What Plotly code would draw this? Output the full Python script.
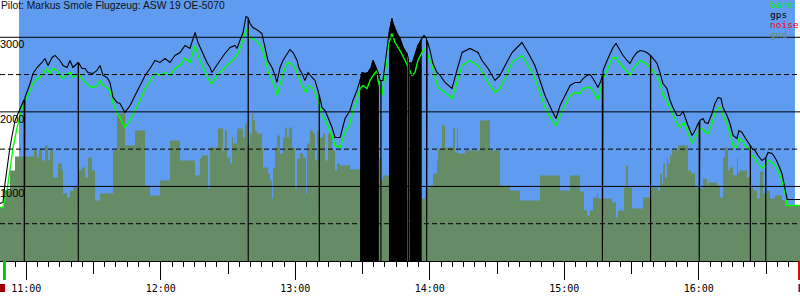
import pandas as pd
import plotly.graph_objects as go

# ---------------- data (times in minutes after midnight, altitudes in m) -------------
gps_min = [648.3, 649.6, 650.5, 651.4, 652.7, 654.1, 655.0, 656.3, 658.1, 659.4, 661.7, 663.0, 664.8, 667.0,
           668.3, 669.7, 671.5, 672.8, 675.0, 676.4, 678.2, 679.5, 680.8, 683.1, 684.9, 686.2, 687.5, 689.8,
           691.5, 692.9, 694.2, 696.0, 697.3, 698.7, 700.5, 701.8, 704.0, 706.3, 708.5, 710.7, 713.0, 715.2,
           717.4, 719.6, 721.9, 724.1, 726.3, 728.6, 730.8, 733.0, 735.3, 736.6, 737.5, 738.8, 740.6, 742.0,
           742.8, 744.2, 746.4, 748.6, 750.9, 753.1, 754.0, 755.3, 756.7, 758.0, 758.9, 759.8, 761.1, 763.4,
           765.1, 766.5, 767.8, 769.6, 771.0, 771.8, 773.2, 774.5, 776.3, 777.6, 779.0, 780.8, 781.7, 783.0,
           784.3, 785.7, 787.5, 788.8, 790.1, 791.9, 793.3, 794.6, 796.4, 797.7, 800.0, 802.2, 804.4, 805.7,
           807.5, 808.9, 809.8, 811.1, 812.4, 813.8, 814.7, 816.0, 816.9, 817.8, 819.1, 820.5, 821.8, 823.1,
           823.6, 825.4, 826.7, 828.1, 829.8, 830.7, 832.1, 833.4, 834.7, 836.5, 837.4, 838.8, 840.1, 841.4,
           843.2, 844.6, 846.8, 849.9, 852.1, 854.4, 857.9, 861.5, 863.3, 866.0, 869.1, 871.3, 873.6, 876.7,
           881.1, 883.8, 886.9, 889.2, 891.4, 894.5, 896.3, 898.1, 900.3, 902.6, 904.8, 907.0, 908.4, 910.1,
           911.5, 912.8, 914.6, 915.0, 916.4, 917.3, 919.1, 920.4, 921.7, 923.1, 924.4, 926.2, 928.0, 929.3,
           930.7, 932.4, 933.8, 936.0, 937.4, 939.6, 941.4, 942.7, 944.0, 945.8, 947.2, 948.5, 950.3, 951.6,
           953.0, 955.2, 957.0, 958.3, 960.5, 961.9, 962.8, 964.1, 965.9, 967.2, 968.6, 969.9, 970.8, 972.6,
           973.9, 975.3, 977.0, 977.9, 979.3, 980.6, 982.0, 983.7, 985.1, 986.4, 988.2, 989.5, 990.9, 992.7,
           994.0, 995.3, 997.1, 998.5, 999.4, 1005.2]
gps_alt = [772, 785, 1040, 1254, 1522, 1750, 1885, 1978, 2112, 2193, 2380, 2514, 2595, 2662,
           2716, 2622, 2729, 2756, 2689, 2622, 2595, 2689, 2595, 2662, 2581, 2581, 2528, 2514,
           2555, 2622, 2488, 2461, 2394, 2193, 2126, 2112, 1992, 2085, 2220, 2354, 2488, 2581,
           2689, 2662, 2716, 2662, 2756, 2796, 2890, 2850, 3064, 2930, 2863, 2783, 2662, 2595,
           2528, 2595, 2689, 2783, 2863, 2890, 2850, 2957, 3064, 3279, 3265, 3185, 3131, 3091,
           3051, 2863, 2689, 2595, 2488, 2394, 2595, 2689, 2783, 2836, 2796, 2689, 2581, 2514,
           2421, 2528, 2461, 2421, 2287, 2059, 2018, 1925, 1791, 1656, 1656, 1911, 2018, 2153,
           2287, 2421, 2528, 2514, 2528, 2595, 2689, 2595, 2528, 2421, 2421, 2756, 3051, 3252,
           3185, 3051, 2984, 2863, 2783, 2662, 2648, 2756, 2890, 2984, 3024, 2957, 2823, 2648,
           2528, 2488, 2394, 2313, 2555, 2796, 2850, 2796, 2689, 2581, 2421, 2488, 2622, 2796,
           2930, 2796, 2622, 2421, 2220, 2018, 1911, 2085, 2220, 2354, 2394, 2394, 2447, 2488,
           2501, 2447, 2354, 2327, 2421, 2555, 2689, 2783, 2863, 2917, 2850, 2756, 2689, 2648,
           2729, 2796, 2823, 2809, 2783, 2716, 2648, 2528, 2380, 2313, 2153, 2059, 1951, 1951,
           2005, 1817, 1683, 1750, 1885, 1911, 1858, 1844, 1978, 2112, 2193, 2179, 2059, 1951,
           1844, 1683, 1643, 1750, 1724, 1656, 1589, 1509, 1482, 1415, 1348, 1375, 1455, 1442,
           1388, 1308, 1174, 986, 825, 825]

# single-fix GPS dropouts (altitude falls to 0): time and altitude just around it
dropout_min = [659.1, 683.2, 759.0, 790.7, 818.2, 830.5, 838.6, 917.0, 938.5, 960.2, 983.0, 989.9]
dropout_alt = [2166, 2662, 3252, 2220, 2421, 2716, 2984, 2488, 2756, 1871, 1549, 1388]

# periods of continuous GPS jitter to 0 (drawn as black blocks)
jam1_min = [808.9, 809.8, 811.1, 812.4, 813.8, 814.7, 816.0, 816.9, 817.3]
jam1_alt = [2421, 2528, 2514, 2528, 2595, 2689, 2595, 2528, 2470]
jam2_min = [821.8, 823.1, 823.6, 825.4, 826.7, 828.1, 829.8, 830.0]
jam2_alt = [3051, 3252, 3185, 3051, 2984, 2863, 2783, 2770]
jam3_min = [831.0, 832.1, 833.4, 834.7, 836.4]
jam3_alt = [2662, 2648, 2756, 2890, 2984]

baro_min = [648.3, 649.6, 651.4, 652.7, 654.1, 655.9, 657.2, 658.5, 660.3, 661.7, 663.0, 664.8, 666.1, 667.5,
            669.2, 670.6, 671.9, 673.7, 675.0, 676.4, 678.2, 679.5, 680.8, 683.1, 684.9, 686.2, 687.5, 689.8,
            691.5, 692.9, 694.2, 696.0, 697.3, 698.7, 700.5, 701.8, 704.0, 706.3, 708.5, 710.7, 713.0, 715.2,
            717.4, 719.6, 721.9, 724.1, 726.3, 728.6, 730.8, 733.0, 735.3, 736.6, 737.5, 738.8, 740.6, 742.0,
            742.8, 744.2, 746.4, 748.6, 750.9, 753.1, 754.4, 756.2, 757.6, 758.5, 759.8, 761.1, 763.4, 765.1,
            766.5, 767.8, 769.6, 771.0, 771.8, 773.2, 774.5, 776.3, 777.6, 779.0, 780.8, 782.1, 783.4, 784.8,
            785.7, 787.5, 788.8, 790.1, 791.9, 793.3, 794.6, 796.4, 797.7, 800.0, 802.2, 804.4, 805.7, 807.5,
            808.9, 810.2, 812.0, 813.3, 814.7, 816.5, 816.9, 818.7, 819.1, 820.9, 821.4, 823.1, 824.5, 826.7,
            829.0, 830.3, 832.1, 833.4, 834.7, 836.5, 837.9, 839.2, 841.0, 842.3, 843.7, 846.8, 849.9, 852.1,
            854.4, 857.9, 861.5, 863.3, 866.0, 869.1, 871.3, 873.6, 876.7, 881.1, 883.8, 886.9, 889.2, 891.4,
            894.5, 896.3, 898.1, 900.3, 902.6, 904.8, 907.0, 908.4, 910.1, 911.5, 912.8, 914.6, 915.0, 916.4,
            917.3, 919.1, 920.4, 921.7, 923.1, 924.4, 926.2, 928.0, 929.3, 930.7, 932.4, 933.8, 936.0, 937.4,
            939.6, 941.4, 942.7, 944.0, 945.8, 947.2, 948.5, 950.3, 951.6, 953.4, 957.0, 958.3, 960.5, 961.9,
            962.8, 964.1, 965.9, 967.2, 968.6, 969.9, 970.8, 972.6, 973.9, 975.3, 977.0, 977.9, 979.3, 980.6,
            982.0, 983.7, 985.1, 986.4, 988.2, 989.5, 990.9, 992.7, 994.0, 995.3, 997.1, 998.5, 999.4, 1005.2]
baro_alt = [718, 718, 946, 1254, 1522, 1791, 1951, 2085, 2193, 2287, 2380, 2447, 2461, 2514,
            2581, 2514, 2581, 2555, 2488, 2447, 2514, 2528, 2461, 2514, 2447, 2394, 2354, 2327,
            2354, 2421, 2354, 2327, 2287, 2112, 1978, 1925, 1791, 1885, 2018, 2153, 2313, 2421,
            2514, 2488, 2528, 2488, 2581, 2622, 2716, 2662, 2890, 2756, 2689, 2595, 2488, 2394,
            2380, 2447, 2528, 2595, 2662, 2729, 2783, 2917, 3051, 3118, 2997, 2984, 2930, 2863,
            2716, 2555, 2421, 2327, 2220, 2394, 2514, 2648, 2662, 2622, 2528, 2421, 2327, 2260,
            2354, 2327, 2260, 2153, 1951, 1885, 1791, 1683, 1549, 1522, 1724, 1844, 2018, 2153,
            2313, 2354, 2313, 2421, 2488, 2555, 2421, 2220, 2313, 2689, 2890, 3051, 2930, 2823,
            2689, 2595, 2488, 2528, 2689, 2796, 2850, 2756, 2622, 2461, 2327, 2260, 2179, 2394,
            2622, 2689, 2622, 2528, 2394, 2260, 2313, 2447, 2662, 2756, 2622, 2447, 2260, 2059,
            1885, 1817, 1951, 2085, 2220, 2260, 2246, 2313, 2327, 2327, 2287, 2179, 2166, 2327,
            2447, 2555, 2662, 2729, 2729, 2662, 2595, 2528, 2488, 2581, 2648, 2689, 2662, 2622,
            2555, 2488, 2380, 2220, 2153, 2045, 1951, 1844, 1791, 1858, 1576, 1643, 1777, 1777,
            1724, 1710, 1844, 1978, 2059, 2045, 1951, 1844, 1710, 1549, 1522, 1643, 1616, 1549,
            1509, 1415, 1375, 1308, 1241, 1281, 1348, 1321, 1281, 1214, 1080, 906, 745, 745]

# terrain elevation under the track (step profile: value holds until the next time)
gnd_min = [648.27, 650.05, 652.73, 654.96, 663.44, 664.78, 665.67, 667.01, 668.34, 669.68, 670.58, 671.91,
           674.14, 675.93, 676.37, 678.16, 679.50, 680.83, 683.07, 684.85, 686.19, 687.53, 689.31, 690.65,
           692.88, 698.68, 700.46, 704.03, 708.49, 712.95, 715.19, 719.65, 724.11, 728.57, 735.26, 737.49,
           738.38, 741.06, 741.95, 745.52, 747.75, 748.64, 749.53, 750.87, 751.77, 752.21, 754.00, 756.67,
           757.56, 758.46, 759.80, 760.69, 761.13, 762.03, 762.92, 765.15, 765.60, 767.83, 768.72, 769.61,
           770.06, 770.95, 771.84, 773.18, 774.52, 775.41, 776.30, 777.19, 778.53, 779.87, 780.76, 782.10,
           783.44, 784.78, 785.22, 786.56, 787.90, 788.79, 789.68, 791.02, 792.36, 793.25, 794.59, 796.38,
           797.71, 798.61, 799.94, 804.41, 817.34, 818.23, 819.13, 821.80, 836.52, 837.86, 840.09, 841.43,
           843.22, 843.66, 845.45, 846.78, 850.36, 851.25, 852.14, 852.59, 855.71, 862.40, 866.86, 871.32,
           875.78, 880.24, 889.16, 898.09, 902.55, 907.01, 908.80, 910.14, 911.47, 912.81, 914.59, 915.04,
           921.29, 923.07, 923.96, 926.64, 927.53, 928.42, 930.21, 935.11, 938.24, 939.13, 941.80, 942.70,
           943.59, 944.03, 944.93, 945.82, 946.26, 947.16, 948.05, 950.73, 955.19, 956.53, 958.31, 960.54,
           961.88, 963.66, 964.11, 968.12, 969.46, 970.80, 971.70, 973.04, 973.92, 975.26, 977.05, 977.49,
           978.38, 981.51, 982.85, 984.19, 985.97, 987.31, 988.65, 990.43, 991.77, 994.00, 997.13, 998.47,
           1005.15]
gnd_alt = [718, 946, 1214, 1402, 1482, 1388, 1509, 1348, 1549, 1348, 1482, 1120,
           1308, 1214, 906, 852, 946, 986, 1214, 1254, 1120, 1388, 1214, 812,
           906, 1482, 1978, 1549, 1750, 1013, 879, 1080, 1616, 1348, 1147, 1375,
           1415, 973, 1522, 1777, 1482, 1750, 1388, 1308, 1656, 1576, 1777, 1656,
           1844, 1549, 1710, 1978, 1885, 1750, 1710, 1522, 1254, 1174, 1080, 839,
           1254, 1522, 1683, 1442, 1656, 1791, 1656, 1791, 1522, 973, 1375, 1442,
           1388, 906, 1576, 1750, 1710, 1348, 1750, 1656, 1710, 1348, 1710, 1482,
           1214, 1308, 1281, 1228, 1375, 1080, 1147, 812, 839, 973, 1013, 1174,
           1348, 1509, 1817, 1522, 1777, 1455, 1777, 1442, 1482, 1885, 1482, 1013,
           946, 812, 1147, 946, 1147, 933, 678, 611, 678, 852, 919, 839,
           785, 584, 678, 986, 1281, 986, 705, 852, 946, 986, 946, 1174,
           1040, 1308, 1120, 1388, 1308, 1415, 1482, 1549, 1214, 1174, 986, 973,
           1107, 986, 1053, 1013, 852, 1388, 1522, 1214, 1254, 1147, 1375, 1187,
           1214, 1120, 986, 946, 839, 1200, 906, 946, 839, 879, 812, 745,
           745]

alt_ticks = [1000, 2000, 3000]
alt_dashed = [500, 1500, 2500]
view_min = [648.27, 1005.15]
sky_min = [656.75, 1002.9]        # period shown with blue sky background
start_mark_min = [649.6, 650.9]
end_mark_min = [1004.3, 1005.15]
title_text = "Pilot: Markus Smole Flugzeug: ASW 19 OE-5070"
legend_items = [("baro", "#00ee00"), ("gps", "#000000"), ("noise", "#ff0000"), ("gnd", "#6b8f66")]

# ---------------- helpers ----------------
BASE = pd.Timestamp("2000-01-01")


def T(m):
    return BASE + pd.to_timedelta(m, unit="min")


def Ts(lst):
    return [T(m) for m in lst]


# merge dropouts into the gps series
pts = list(zip(gps_min, gps_alt))
for m, a in zip(dropout_min, dropout_alt):
    pts += [(m - 0.05, a), (m, 0), (m + 0.05, a)]
pts.sort()
gx = [p[0] for p in pts]
gy = [p[1] for p in pts]

SKY = "#5f9cf0"
GND = "#658c65"

fig = go.Figure()
fig.add_trace(go.Scatter(x=Ts(gnd_min), y=gnd_alt, mode="lines", line=dict(width=0, shape="hv"),
                         fill="tozeroy", fillcolor=GND, hoverinfo="skip", showlegend=False))
for jm, ja in [(jam1_min, jam1_alt), (jam2_min, jam2_alt), (jam3_min, jam3_alt)]:
    fig.add_trace(go.Scatter(x=Ts(jm), y=ja, mode="lines", line=dict(width=1, color="black"),
                             fill="tozeroy", fillcolor="black", hoverinfo="skip", showlegend=False))
fig.add_trace(go.Scatter(x=Ts(baro_min), y=baro_alt, mode="lines",
                         line=dict(width=1.4, color="#00ff00"), showlegend=False))
fig.add_trace(go.Scatter(x=Ts(gx), y=gy, mode="lines",
                         line=dict(width=1.1, color="black"), showlegend=False))
# invisible trace to create the overlaying half-hour tick axis
fig.add_trace(go.Scatter(x=Ts(view_min), y=[0, 0], xaxis="x2", mode="lines",
                         line=dict(width=0), opacity=0, hoverinfo="skip", showlegend=False))

shapes = [dict(type="rect", xref="x", yref="paper", x0=T(sky_min[0]), x1=T(sky_min[1]), y0=0, y1=1,
               fillcolor=SKY, line=dict(width=0), layer="below")]
for v in alt_ticks:
    shapes.append(dict(type="line", xref="paper", yref="y", x0=0, x1=1, y0=v, y1=v,
                       line=dict(color="black", width=1), layer="above"))
for v in alt_dashed:
    shapes.append(dict(type="line", xref="paper", yref="y", x0=0, x1=1, y0=v, y1=v,
                       line=dict(color="black", width=1, dash="5px,3px"), layer="above"))
# start / end markers under the time axis
shapes.append(dict(type="rect", xref="x", yref="paper", x0=T(start_mark_min[0]), x1=T(start_mark_min[1]),
                   y0=-19 / 261, y1=0, fillcolor="#00cc00", line=dict(width=0)))
shapes.append(dict(type="rect", xref="paper", yref="paper", x0=0, x1=5 / 800,
                   y0=-31 / 261, y1=-23 / 261, fillcolor="#a00000", line=dict(width=0)))
shapes.append(dict(type="rect", xref="x", yref="paper", x0=T(end_mark_min[0]), x1=T(end_mark_min[1]),
                   y0=-19 / 261, y1=0, fillcolor="#e00000", line=dict(width=0)))
shapes.append(dict(type="rect", xref="paper", yref="paper", x0=798.5 / 800, x1=1,
                   y0=-31 / 261, y1=-23 / 261, fillcolor="#a00000", line=dict(width=0)))

ann = []
ann.append(dict(text=title_text, xref="paper", yref="paper", x=0, y=1, xanchor="left", yanchor="top",
                showarrow=False, font=dict(family="Liberation Sans", size=10.3, color="#111111"),
                borderpad=0, yshift=1))
for v in alt_ticks:
    ann.append(dict(text=str(v), xref="paper", yref="y", x=0, y=v, xanchor="left", yanchor="top",
                    showarrow=False, font=dict(family="Liberation Sans", size=11, color="black"),
                    borderpad=0, xshift=-1))
for i, (name, col) in enumerate(legend_items):
    ann.append(dict(text=name, xref="paper", yref="paper", x=769 / 800, y=1 - (i * 10) / 261,
                    xanchor="left", yanchor="top", showarrow=False, borderpad=0, yshift=2,
                    font=dict(family="DejaVu Sans Mono", size=9.5, color=col)))

fig.update_layout(
    width=800, height=300, margin=dict(l=0, r=0, t=0, b=39),
    paper_bgcolor="white", plot_bgcolor="white",
    shapes=shapes, annotations=ann, showlegend=False,
    xaxis=dict(type="date", range=Ts(view_min), showgrid=False, zeroline=False,
               showline=True, linecolor="black", linewidth=1,
               ticks="outside", ticklen=18, tickwidth=1, tickcolor="black",
               tick0=T(660), dtick=3600000, tickformat="%H:%M",
               tickfont=dict(family="DejaVu Sans Mono", size=10, color="black"),
               minor=dict(ticks="outside", dtick=300000, tick0=T(660), ticklen=5,
                          tickcolor="black", tickwidth=1, showgrid=False)),
    xaxis2=dict(type="date", overlaying="x", anchor="y", side="bottom", range=Ts(view_min),
                showgrid=False, zeroline=False, showline=False, showticklabels=False,
                ticks="outside", ticklen=12, tickwidth=1, tickcolor="black",
                tick0=T(660), dtick=1800000),
    yaxis=dict(range=[0, 3500], showgrid=False, zeroline=False, showticklabels=False, ticks=""),
)
fig.write_html("out.html")
